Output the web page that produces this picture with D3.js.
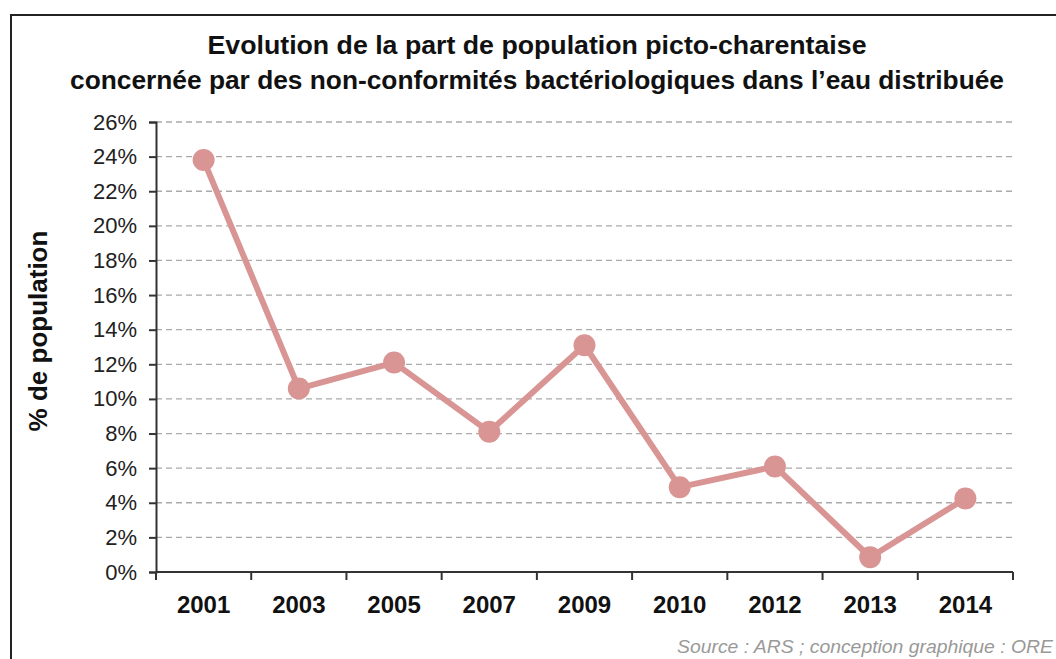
<!DOCTYPE html>
<html>
<head>
<meta charset="utf-8">
<script src="https://cdn.jsdelivr.net/npm/d3@7"></script>
<style>
  body { margin: 0; background: #fff; }
  svg { display: block; }
</style>
</head>
<body>
<div id="chart"></div>
<script>
// data
const years = ["2001", "2003", "2005", "2007", "2009", "2010", "2012", "2013", "2014"];
const shares = [23.8, 10.6, 12.1, 8.1, 13.1, 4.9, 6.1, 0.85, 4.25];
const yTicks = [0, 2, 4, 6, 8, 10, 12, 14, 16, 18, 20, 22, 24, 26];
const titleLines = [
  "Evolution de la part de population picto-charentaise",
  "concernée par des non-conformités bactériologiques dans l’eau distribuée"
];

const width = 1056, height = 659;
const margin = {top: 122, right: 43, bottom: 87, left: 156};
const lineColor = "#d99594";

const svg = d3.select("#chart").append("svg")
  .attr("width", width)
  .attr("height", height);

// frame
svg.append("path")
  .attr("d", `M11,${height} L11,15 L${width},15`)
  .attr("fill", "none")
  .attr("stroke", "#222")
  .attr("stroke-width", 2);

const x = d3.scaleBand()
  .domain(years)
  .range([margin.left, width - margin.right]);

const y = d3.scaleLinear()
  .domain([0, 26])
  .range([height - margin.bottom, margin.top]);

// grid
svg.append("g")
  .selectAll("line")
  .data(yTicks.filter(d => d > 0))
  .join("line")
  .attr("x1", margin.left)
  .attr("x2", width - margin.right)
  .attr("y1", d => y(d))
  .attr("y2", d => y(d))
  .attr("stroke", "#aaa")
  .attr("stroke-width", 1.3)
  .attr("stroke-dasharray", "6,4");

// y axis
const yAxis = svg.append("g")
  .attr("transform", `translate(${margin.left},0)`)
  .call(d3.axisLeft(y).tickValues(yTicks).tickSize(7).tickPadding(12).tickFormat(d => d + "%"));
yAxis.selectAll("path, line").attr("stroke", "#333").attr("stroke-width", 2);
yAxis.selectAll("text")
  .attr("font-family", "Liberation Sans, Arial, sans-serif")
  .attr("font-size", "22px")
  .attr("fill", "#222");

// x axis, ticks on the band boundaries
const xAxis = svg.append("g")
  .attr("transform", `translate(0,${y(0)})`);
xAxis.append("line")
  .attr("x1", margin.left)
  .attr("x2", width - margin.right)
  .attr("stroke", "#333")
  .attr("stroke-width", 2);
xAxis.selectAll(".tk")
  .data(years.concat(["end"]))
  .join("line")
  .attr("class", "tk")
  .attr("x1", (d, i) => i < years.length ? x(d) : x(years[years.length - 1]) + x.bandwidth())
  .attr("x2", (d, i) => i < years.length ? x(d) : x(years[years.length - 1]) + x.bandwidth())
  .attr("y1", 0)
  .attr("y2", 8)
  .attr("stroke", "#333")
  .attr("stroke-width", 2);
xAxis.selectAll("text")
  .data(years)
  .join("text")
  .attr("x", d => x(d) + x.bandwidth() / 2)
  .attr("y", 41)
  .attr("text-anchor", "middle")
  .attr("font-family", "Liberation Sans, Arial, sans-serif")
  .attr("font-weight", "bold")
  .attr("font-size", "24px")
  .attr("fill", "#111")
  .text(d => d);

// line + points
const line = d3.line()
  .x((d, i) => x(years[i]) + x.bandwidth() / 2)
  .y(d => y(d));

svg.append("path")
  .datum(shares)
  .attr("fill", "none")
  .attr("stroke", lineColor)
  .attr("stroke-width", 6)
  .attr("stroke-linejoin", "round")
  .attr("d", line);

svg.append("g")
  .selectAll("circle")
  .data(shares)
  .join("circle")
  .attr("cx", (d, i) => x(years[i]) + x.bandwidth() / 2)
  .attr("cy", d => y(d))
  .attr("r", 11)
  .attr("fill", lineColor);

// title
svg.append("g")
  .selectAll("text")
  .data(titleLines)
  .join("text")
  .attr("x", 537)
  .attr("y", (d, i) => 54 + i * 35)
  .attr("text-anchor", "middle")
  .attr("font-family", "Liberation Sans, Arial, sans-serif")
  .attr("font-weight", "bold")
  .attr("font-size", "26px")
  .attr("textLength", (d, i) => i === 0 ? 659 : 934)
  .attr("lengthAdjust", "spacingAndGlyphs")
  .attr("fill", "#111")
  .text(d => d);

// y label
svg.append("text")
  .attr("transform", `translate(47,331)rotate(-90)`)
  .attr("text-anchor", "middle")
  .attr("font-family", "Liberation Sans, Arial, sans-serif")
  .attr("font-weight", "bold")
  .attr("font-size", "26px")
  .attr("fill", "#111")
  .text("% de population");

// source
svg.append("text")
  .attr("x", 677)
  .attr("y", 653)
  .attr("font-family", "Liberation Sans, Arial, sans-serif")
  .attr("font-style", "italic")
  .attr("font-size", "18px")
  .attr("textLength", 376)
  .attr("lengthAdjust", "spacingAndGlyphs")
  .attr("fill", "#999")
  .text("Source : ARS ; conception graphique : ORE");
</script>
</body>
</html>
